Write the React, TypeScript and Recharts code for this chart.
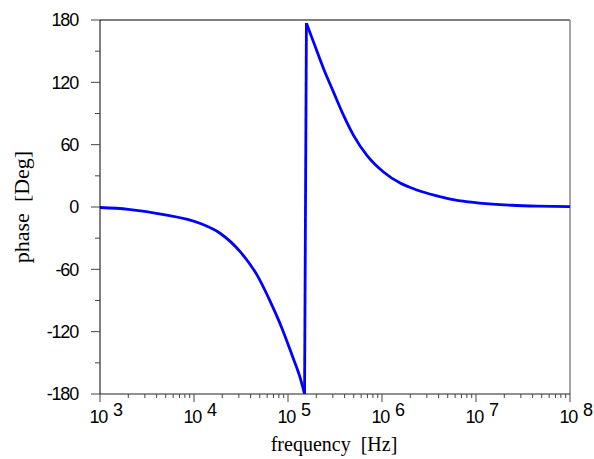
import React from 'react';
import { LineChart, Line, XAxis, YAxis, ReferenceLine } from 'recharts';

// readings: frequency in Hz, phase in degrees
const lowFreq = [1000, 2000, 4600, 11700, 19100, 31100, 46900, 65000, 86400, 110300, 135300, 150000];
const lowPhase = [-0.5, -2.2, -7, -15.9, -25.5, -43.2, -65.6, -91.3, -116.9, -142.5, -164.9, -180];
const jumpFreq = [150000, 157000];
const jumpPhase = [-180, 177];
const highFreq = [157000, 187000, 239000, 305000, 390000, 498000, 691000, 1038000, 1560000, 2350000, 3670000, 5500000, 8300000, 15000000, 24000000, 45000000, 100000000];
const highPhase = [177, 158.7, 133.1, 110.6, 88.2, 69, 49.7, 33.7, 23, 16.4, 11.1, 7.3, 4.9, 2.7, 1.7, 0.9, 0.4];

const decades = [1e3, 1e4, 1e5, 1e6, 1e7, 1e8];
const minorSteps = [2, 3, 4, 5, 6, 7, 8, 9];
const xTicks = decades.flatMap((d, i) =>
i < decades.length - 1 ? [d, ...minorSteps.map((m) => d * m)] : [d]);
const yTicks = [-180, -150, -120, -90, -60, -30, 0, 30, 60, 90, 120, 150, 180];

const toRows = (fs: number[], ps: number[]) => fs.map((f, i) => ({ f, p: ps[i] }));
const lowData = toRows(lowFreq, lowPhase);
const jumpData = toRows(jumpFreq, jumpPhase);
const highData = toRows(highFreq, highPhase);

const sans = '"Liberation Sans", Arial, sans-serif';
const serif = '"Liberation Serif", "Times New Roman", serif';

function XTick(props: any) {
  const { x, y, payload } = props;
  const e = Math.log10(payload.value);
  const major = Math.abs(e - Math.round(e)) < 1e-6;
  if (!major) return <line x1={x} y1={y} x2={x} y2={y + 4} stroke="#444" />;
  return (
    <g>
      <line x1={x} y1={y} x2={x} y2={y + 8} stroke="#444" />
      <text x={x + 7} y={y + 29} textAnchor="end" fontSize={18} letterSpacing={-1.2} fontFamily={sans} fill="#000">10</text>
      <text x={x + 13} y={y + 22} textAnchor="start" fontSize={18} fontFamily={sans} fill="#000">{Math.round(e)}</text>
    </g>);

}

function YTick(props: any) {
  const { x, y, payload } = props;
  const major = payload.value % 60 === 0;
  if (!major) return <line x1={x - 5} y1={y} x2={x} y2={y} stroke="#444" />;
  return (
    <g>
      <line x1={x - 9} y1={y} x2={x} y2={y} stroke="#444" />
      <text x={x - 22} y={y} dy="0.36em" textAnchor="end" fontSize={18} letterSpacing={-1.2} fontFamily={sans} fill="#000">{payload.value}</text>
    </g>);

}

export default function App() {
  return (
    <div style={{ position: 'absolute', left: 0, top: 0, width: 594, height: 459, background: '#fff' }}>
      <LineChart width={594} height={459} margin={{ top: 20, right: 24, bottom: 35, left: 40 }}>
        <XAxis
          dataKey="f"
          type="number"
          scale="log"
          domain={[1e3, 1e8]}
          allowDataOverflow
          ticks={xTicks}
          interval={0}
          tick={<XTick />}
          tickLine={false}
          tickSize={0}
          tickMargin={0}
          height={30}
          axisLine={{ stroke: '#222' }} />

        <YAxis
          type="number"
          domain={[-180, 180]}
          allowDataOverflow
          ticks={yTicks}
          interval={0}
          tick={<YTick />}
          tickLine={false}
          tickSize={0}
          tickMargin={0}
          width={60}
          axisLine={{ stroke: '#000' }} />

        <ReferenceLine y={180} stroke="#000" />
        <ReferenceLine x={1e8} stroke="#888" strokeWidth={1.5} />
        <Line data={lowData} dataKey="p" type="monotone" stroke="#0000ff" strokeWidth={2.8} dot={false} isAnimationActive={false} />
        <Line data={jumpData} dataKey="p" type="linear" stroke="#0000ff" strokeWidth={2.8} dot={false} isAnimationActive={false} />
        <Line data={highData} dataKey="p" type="monotone" stroke="#0000ff" strokeWidth={2.8} dot={false} isAnimationActive={false} />
      </LineChart>
      <svg width={594} height={459} style={{ position: 'absolute', left: 0, top: 0, pointerEvents: 'none' }}>
        <text x={334} y={451} textAnchor="middle" fontSize={20} fontFamily={serif} fill="#000" style={{ whiteSpace: 'pre' }}>
          {'frequency  [Hz]'}
        </text>
        <text
          x={29}
          y={207}
          textAnchor="middle"
          fontSize={22}
          fontFamily={serif}
          fill="#000"
          transform="rotate(-90 29 207)"
          style={{ whiteSpace: 'pre' }}>
          {'phase  [Deg]'}
        </text>
      </svg>
    </div>);

}
